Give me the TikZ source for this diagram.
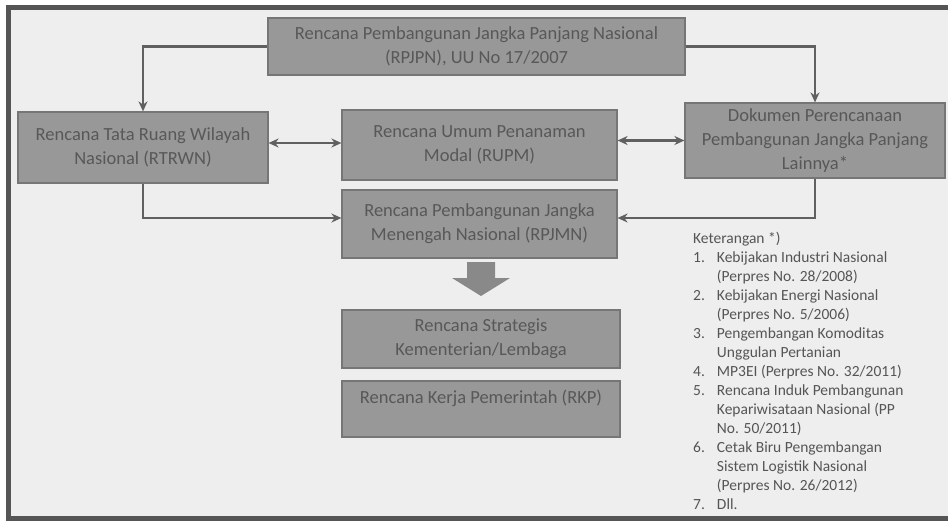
\documentclass[tikz,border=0pt]{standalone}
\usepackage{fontspec}
\setmainfont{Carlito}
\usetikzlibrary{arrows.meta}
\definecolor{bgc}{HTML}{EEEEEE}
\definecolor{boxfill}{HTML}{989898}
\definecolor{boxline}{HTML}{767676}
\definecolor{boxtext}{HTML}{585858}
\definecolor{linec}{HTML}{606060}
\definecolor{framec}{HTML}{555555}
\definecolor{legtext}{HTML}{555555}
\begin{document}
\begin{tikzpicture}[x=1pt,y=-1pt,
  planbox/.style={draw=boxline,line width=1.2pt,fill=boxfill,text=boxtext,
    align=center,font=\fontsize{18.5}{24}\selectfont,inner sep=2pt},
  conn/.style={draw=linec,line width=2.2pt,-{Stealth[length=10pt,width=9pt]}},
  dconn/.style={draw=linec,line width=2.2pt,{Stealth[length=10pt,width=9pt]}-{Stealth[length=10pt,width=9pt]}}]
\useasboundingbox (0,0) rectangle (948,524);
\clip (0,0) rectangle (948,524);
\fill[white] (0,0) rectangle (948,524);
\fill[bgc] (8,8) rectangle (960,518);
\draw[framec,line width=5pt] (8,8) rectangle (960,518);

\node[planbox,minimum width=417pt,minimum height=57pt] (rpjpn) at (476.5,46.5)
  {Rencana Pembangunan Jangka Panjang Nasional\\(RPJPN), UU No 17/2007};
\node[planbox,minimum width=250pt,minimum height=71pt] (rtrwn) at (143,147.5)
  {Rencana Tata Ruang Wilayah\\Nasional (RTRWN)};
\node[planbox,minimum width=275pt,minimum height=70pt] (rupm) at (479.5,145)
  {Rencana Umum Penanaman\\Modal (RUPM)};
\node[planbox,minimum width=260pt,minimum height=75pt] (dok) at (815,140.5)
  {Dokumen Perencanaan\\Pembangunan Jangka Panjang\\Lainnya*};
\node[planbox,minimum width=275pt,minimum height=68pt] (rpjmn) at (479.5,224)
  {Rencana Pembangunan Jangka\\Menengah Nasional (RPJMN)};
\node[planbox,minimum width=278pt,minimum height=58pt] (renstra) at (481,339)
  {Rencana Strategis\\Kementerian/Lembaga};
\node[planbox,minimum width=278pt,minimum height=56pt] (rkp) at (481,409)
  {Rencana Kerja Pemerintah (RKP)\\\phantom{X}};

\draw[conn] (rpjpn.west) -| (rtrwn.north);
\draw[conn] (rpjpn.east) -| (dok.north);
\draw[dconn] ([yshift=2pt]rupm.west -| rtrwn.east) -- ([yshift=2pt]rupm.west);
\draw[dconn] (rupm.east |- dok.west) -- (dok.west);
\draw[conn] (rtrwn.south) |- ([yshift=6pt]rpjmn.west);
\draw[conn] (dok.south) |- ([yshift=6pt]rpjmn.east);

\fill[boxfill!90!black] (467,262) -- (495,262) -- (495,278) -- (510,278)
  -- (481,296) -- (452,278) -- (467,278) -- cycle;

\node[anchor=north west,inner sep=0pt,text=legtext,
  font=\fontsize{15.5}{19}\selectfont] (leg) at (693,230) {%
  \begin{tabular}{@{}l@{\hspace{12pt}}l@{}}
  \multicolumn{2}{@{}l@{}}{Keterangan *)}\\
  1. & Kebijakan Industri Nasional\\
     & (Perpres No. 28/2008)\\
  2. & Kebijakan Energi Nasional\\
     & (Perpres No. 5/2006)\\
  3. & Pengembangan Komoditas\\
     & Unggulan Pertanian\\
  4. & MP3EI (Perpres No. 32/2011)\\
  5. & Rencana Induk Pembangunan\\
     & Kepariwisataan Nasional (PP\\
     & No. 50/2011)\\
  6. & Cetak Biru Pengembangan\\
     & Sistem Logistik Nasional\\
     & (Perpres No. 26/2012)\\
  7. & Dll.
  \end{tabular}};
\end{tikzpicture}
\end{document}
